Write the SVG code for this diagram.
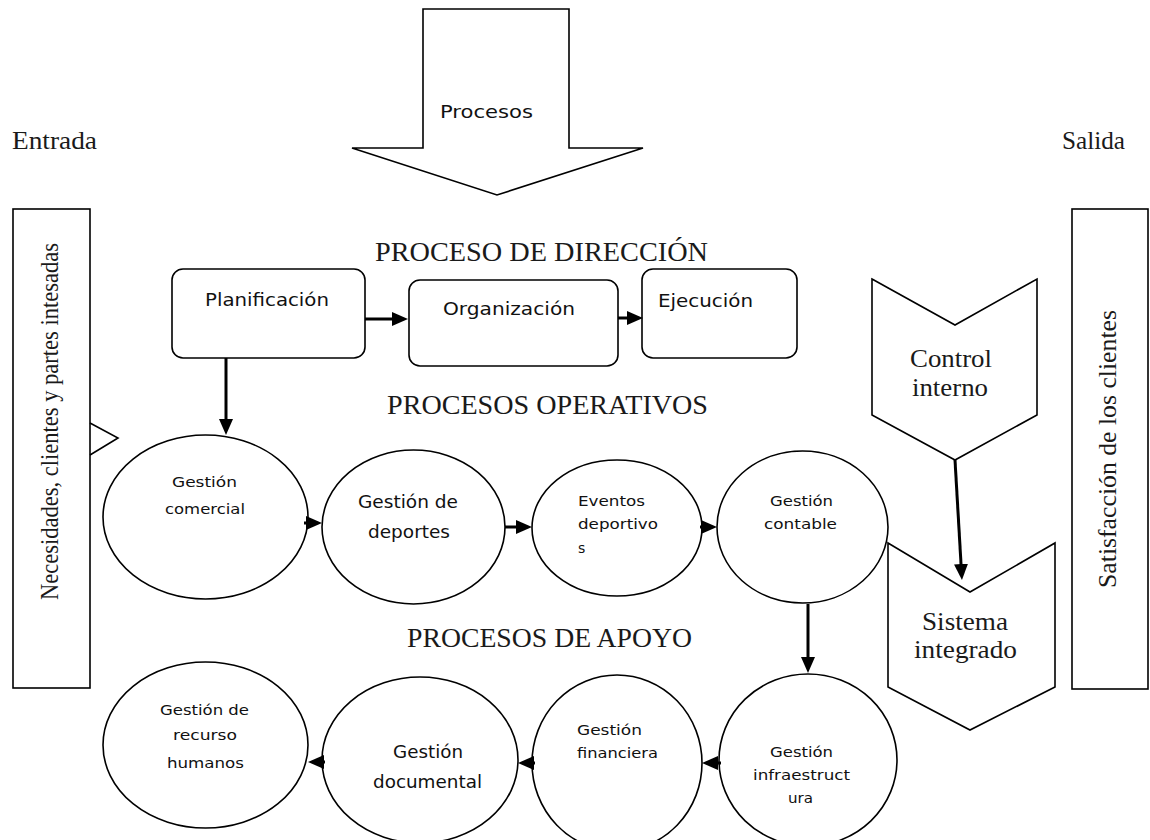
<svg xmlns="http://www.w3.org/2000/svg" width="1150" height="840" viewBox="0 0 1150 840">
<style>
.shape{fill:#fff;stroke:#000;stroke-width:1.6}
.serif{font-family:"Liberation Serif","Times New Roman",serif;font-size:26px;fill:#1a1a1a}
.head{font-family:"Liberation Serif","Times New Roman",serif;font-size:27px;fill:#1a1a1a}
.sans{font-family:"DejaVu Sans","Open Sans",sans-serif;font-size:17px;fill:#111}
.small{font-family:"DejaVu Sans","Open Sans",sans-serif;font-size:14px;fill:#111}
.conn{stroke:#000;stroke-width:3;fill:none;marker-end:url(#ah)}
</style>
<defs>
<marker id="ah" markerUnits="userSpaceOnUse" markerWidth="16" markerHeight="14" refX="10" refY="7" orient="auto">
<path d="M0,0 L16,7 L0,14 z" fill="#000"/>
</marker>
</defs>
<rect width="1150" height="840" fill="#fff"/>

<g id="entrada-label"><text class="serif" x="12" y="149" textLength="85" lengthAdjust="spacingAndGlyphs">Entrada</text></g>
<g id="salida-label"><text class="serif" x="1062" y="149" textLength="63" lengthAdjust="spacingAndGlyphs">Salida</text></g>

<g id="procesos-arrow">
<polygon class="shape" points="423,9 569,9 569,148 643,148 497,195 352,148 423,148"/>
<text class="sans" x="440" y="118" font-size="18" textLength="93" lengthAdjust="spacingAndGlyphs">Procesos</text>
</g>

<g id="entrada-box">
<rect class="shape" x="13" y="209" width="77" height="479"/>
<polyline points="90,423 118,438 90,455" fill="none" stroke="#000" stroke-width="1.6"/>
<text class="serif" transform="translate(58,600) rotate(-90)" x="0" y="0" textLength="357" lengthAdjust="spacingAndGlyphs">Necesidades, clientes y partes intesadas</text>
</g>

<g id="salida-box">
<rect class="shape" x="1072" y="209" width="76" height="480"/>
<text class="serif" transform="translate(1116,588) rotate(-90)" x="0" y="0" textLength="278" lengthAdjust="spacingAndGlyphs">Satisfacción de los clientes</text>
</g>

<g id="heading-direccion"><text class="head" x="375" y="261" textLength="333" lengthAdjust="spacingAndGlyphs">PROCESO DE DIRECCIÓN</text></g>
<g id="heading-operativos"><text class="head" x="387" y="414" textLength="321" lengthAdjust="spacingAndGlyphs">PROCESOS OPERATIVOS</text></g>
<g id="heading-apoyo"><text class="head" x="407" y="647" textLength="285" lengthAdjust="spacingAndGlyphs">PROCESOS DE APOYO</text></g>

<g id="planificacion">
<rect class="shape" x="172" y="269" width="193" height="89" rx="11"/>
<text class="sans" x="205" y="306" font-size="18" textLength="124" lengthAdjust="spacingAndGlyphs">Planificación</text>
</g>
<g id="organizacion">
<rect class="shape" x="409" y="280" width="209" height="86" rx="11"/>
<text class="sans" x="443" y="315" font-size="18" textLength="132" lengthAdjust="spacingAndGlyphs">Organización</text>
</g>
<g id="ejecucion">
<rect class="shape" x="642" y="269" width="155" height="89" rx="11"/>
<text class="sans" x="658" y="307" font-size="18" textLength="95" lengthAdjust="spacingAndGlyphs">Ejecución</text>
</g>

<g id="control-interno">
<polygon class="shape" points="872,279 955,325 1037,279 1037,415 955,460 872,415"/>
<text class="serif" x="910" y="367" textLength="82" lengthAdjust="spacingAndGlyphs">Control</text>
<text class="serif" x="912" y="396" textLength="76" lengthAdjust="spacingAndGlyphs">interno</text>
</g>

<g id="gestion-comercial">
<ellipse class="shape" cx="205.5" cy="517" rx="102.5" ry="82"/>
<text class="small" x="172" y="487" textLength="65" lengthAdjust="spacingAndGlyphs">Gestión</text>
<text class="small" x="165" y="514" textLength="80" lengthAdjust="spacingAndGlyphs">comercial</text>
</g>
<g id="gestion-deportes">
<ellipse class="shape" cx="413.5" cy="527" rx="91.5" ry="77"/>
<text class="sans" x="358" y="508" textLength="100" lengthAdjust="spacingAndGlyphs">Gestión de</text>
<text class="sans" x="368" y="538" textLength="82" lengthAdjust="spacingAndGlyphs">deportes</text>
</g>
<g id="eventos-deportivos">
<ellipse class="shape" cx="617" cy="528" rx="85" ry="68"/>
<text class="small" x="578" y="506" font-size="15" textLength="67" lengthAdjust="spacingAndGlyphs">Eventos</text>
<text class="small" x="578" y="529" font-size="15" textLength="80" lengthAdjust="spacingAndGlyphs">deportivo</text>
<text class="small" x="578" y="553" font-size="15">s</text>
</g>
<g id="gestion-contable">
<ellipse class="shape" cx="802.5" cy="527" rx="85.5" ry="76"/>
<text class="small" x="770" y="506" font-size="15" textLength="63" lengthAdjust="spacingAndGlyphs">Gestión</text>
<text class="small" x="764" y="529" font-size="15" textLength="73" lengthAdjust="spacingAndGlyphs">contable</text>
</g>

<g id="sistema-integrado">
<polygon class="shape" points="888,543 970,592 1055,543 1055,687 970,730 888,687"/>
<text class="serif" x="922" y="630" textLength="86" lengthAdjust="spacingAndGlyphs">Sistema</text>
<text class="serif" x="914" y="658" textLength="103" lengthAdjust="spacingAndGlyphs">integrado</text>
</g>

<g id="gestion-rh">
<ellipse class="shape" cx="205.5" cy="745" rx="102.5" ry="83"/>
<text class="small" x="160" y="715" textLength="89" lengthAdjust="spacingAndGlyphs">Gestión de</text>
<text class="small" x="173" y="740" textLength="64" lengthAdjust="spacingAndGlyphs">recurso</text>
<text class="small" x="167" y="768" textLength="77" lengthAdjust="spacingAndGlyphs">humanos</text>
</g>
<g id="gestion-documental">
<ellipse class="shape" cx="420" cy="760" rx="98" ry="83"/>
<text class="sans" x="393" y="758" textLength="70" lengthAdjust="spacingAndGlyphs">Gestión</text>
<text class="sans" x="373" y="788" textLength="109" lengthAdjust="spacingAndGlyphs">documental</text>
</g>
<g id="gestion-financiera">
<ellipse class="shape" cx="617" cy="763" rx="85" ry="88"/>
<text class="small" x="577" y="735" font-size="15" textLength="65" lengthAdjust="spacingAndGlyphs">Gestión</text>
<text class="small" x="577" y="758" font-size="15" textLength="81" lengthAdjust="spacingAndGlyphs">financiera</text>
</g>
<g id="gestion-infraestructura">
<ellipse class="shape" cx="808" cy="760" rx="89" ry="86"/>
<text class="small" x="770" y="757" font-size="15" textLength="63" lengthAdjust="spacingAndGlyphs">Gestión</text>
<text class="small" x="753" y="780" font-size="15" textLength="97" lengthAdjust="spacingAndGlyphs">infraestruct</text>
<text class="small" x="788" y="803" font-size="15" textLength="25" lengthAdjust="spacingAndGlyphs">ura</text>
</g>

<g id="connectors">
<line class="conn" x1="365" y1="319" x2="402" y2="319"/>
<line class="conn" x1="618" y1="318" x2="637" y2="318"/>
<line class="conn" x1="226" y1="358" x2="226" y2="429"/>
<line class="conn" x1="304" y1="523" x2="316" y2="523"/>
<line class="conn" x1="505" y1="527" x2="526" y2="527"/>
<line class="conn" x1="700" y1="527" x2="711" y2="527"/>
<line class="conn" x1="808" y1="604" x2="808" y2="667"/>
<line class="conn" x1="721" y1="763" x2="708" y2="763"/>
<line class="conn" x1="535" y1="763" x2="524" y2="763"/>
<line class="conn" x1="325" y1="762" x2="314" y2="762"/>
<line class="conn" x1="955" y1="460" x2="961.6" y2="574"/>
</g>
</svg>
